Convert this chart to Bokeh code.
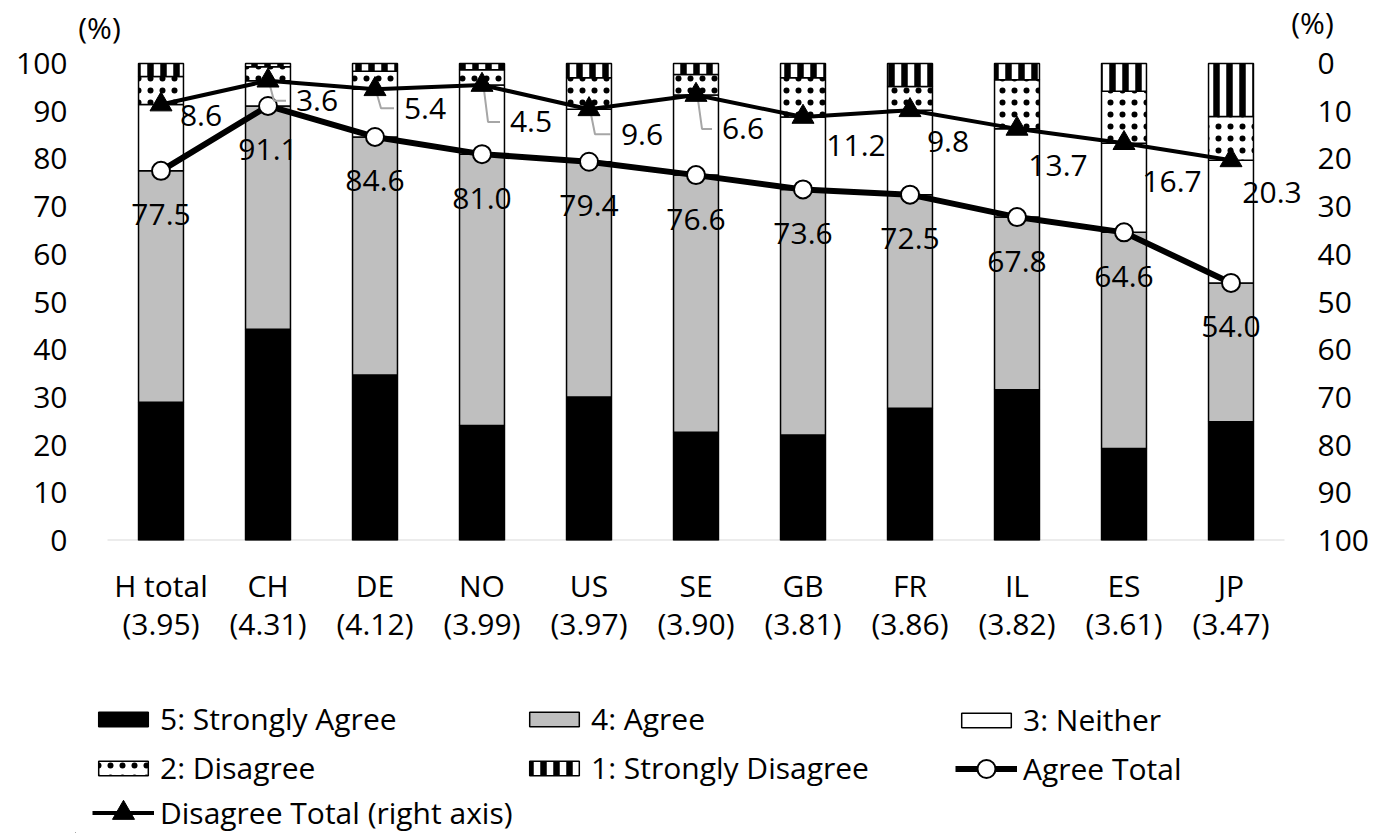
from bokeh.plotting import figure
from bokeh.layouts import column
from bokeh.models import (ColumnDataSource, Range1d, LinearAxis, FixedTicker,
                          Legend, LegendItem, Label)
from bokeh.core.properties import value
from bokeh.embed import file_html
from bokeh.resources import INLINE

# ---- data (percent of respondents) ----
categories = ["H total", "CH", "DE", "NO", "US", "SE", "GB", "FR", "IL", "ES", "JP"]
mean_scores = [3.95, 4.31, 4.12, 3.99, 3.97, 3.90, 3.81, 3.86, 3.82, 3.61, 3.47]
strongly_agree = [29.0, 44.3, 34.7, 24.1, 30.1, 22.7, 22.1, 27.7, 31.6, 19.3, 24.9]
agree_total = [77.5, 91.1, 84.6, 81.0, 79.4, 76.6, 73.6, 72.5, 67.8, 64.6, 54.0]
disagree_total = [8.6, 3.6, 5.4, 4.5, 9.6, 6.6, 11.2, 9.8, 13.7, 16.7, 20.3]
strongly_disagree = [2.7, 0.7, 1.6, 1.3, 3.0, 2.3, 3.0, 4.8, 3.4, 5.8, 11.1]
left_ticks = list(range(0, 101, 10))
right_ticks = list(range(0, 101, 10))

# derived segments of each stacked bar
agree = [round(t - s, 1) for t, s in zip(agree_total, strongly_agree)]
neither = [round(100 - a - d, 1) for a, d in zip(agree_total, disagree_total)]
disagree = [round(d - s, 1) for d, s in zip(disagree_total, strongly_disagree)]
xpos = [i + 0.5 for i in range(len(categories))]
cat_labels = {x: f"{c}\n({m:.2f})" for x, c, m in zip(xpos, categories, mean_scores)}

# ---- layout / style ----
W = 1373
H_MAIN, H_LEG = 690, 143
FONT = "Open Sans"
TXT = "30px"
TICK = "30px"
B_LEFT, B_RIGHT = 75, 38          # plot frame spans x = 75 .. 1335
Y_BASE = 540                      # y of the zero line
PX_PER_PCT = 4.77
PX_PER_CAT = 107.0
X_START = -(107 - B_LEFT) / PX_PER_CAT
X_END = X_START + (W - B_LEFT - B_RIGHT) / PX_PER_CAT
Y_TOP = Y_BASE / PX_PER_PCT

segment_styles = [
    dict(key="s5", label="5: Strongly Agree", fill="#000000", hatch=" ", scale=12, weight=1),
    dict(key="s4", label="4: Agree", fill="#bfbfbf", hatch=" ", scale=12, weight=1),
    dict(key="s3", label="3: Neither", fill="#ffffff", hatch=" ", scale=12, weight=1),
    dict(key="s2", label="2: Disagree", fill="#ffffff", hatch="dot", scale=12, weight=1.8),
    dict(key="s1", label="1: Strongly Disagree", fill="#ffffff", hatch="vertical_line", scale=13, weight=6.5),
]
AGREE_LINE = dict(line_color="black", line_width=6)
AGREE_MARK = dict(marker="circle", size=18, fill_color="white", line_color="black", line_width=2)
DIS_LINE = dict(line_color="black", line_width=4)
DIS_MARK = dict(marker="triangle", size=22, fill_color="black", line_color="black")

# ---- main plot ----
p = figure(width=W, height=H_MAIN, x_range=Range1d(X_START, X_END),
           y_range=Range1d(0, Y_TOP), output_backend="svg", toolbar_location=None,
           min_border_left=B_LEFT, min_border_right=B_RIGHT,
           min_border_top=0, min_border_bottom=H_MAIN - Y_BASE)
p.extra_y_ranges = {"right": Range1d(100, 100 - Y_TOP)}
p.outline_line_color = None
p.xgrid.visible = False
p.ygrid.visible = False


def style_axis(ax, standoff, size):
    ax.axis_line_color = None
    ax.major_tick_line_color = None
    ax.minor_tick_line_color = None
    ax.major_tick_out = 0
    ax.major_tick_in = 0
    ax.major_label_standoff = standoff
    ax.major_label_text_font = FONT
    ax.major_label_text_font_size = size
    ax.major_label_text_color = "black"


ya = p.yaxis[0]
ya.ticker = FixedTicker(ticks=left_ticks)
style_axis(ya, 8, TICK)

ra = LinearAxis(y_range_name="right", ticker=FixedTicker(ticks=right_ticks))
style_axis(ra, -18, TICK)
p.add_layout(ra, "right")

xa = p.xaxis[0]
xa.ticker = FixedTicker(ticks=xpos)
xa.major_label_overrides = cat_labels
style_axis(xa, 24, TXT)
xa.major_label_text_line_height = 0.95

# unit captions above both value axes
p.add_layout(Label(x=-8 / PX_PER_CAT, y=100 + 36 / PX_PER_PCT, text="(%)",
                   text_align="center", text_baseline="middle", text_font=FONT,
                   text_font_size=TICK, text_color="black"))
p.add_layout(Label(x=len(categories) + 28 / PX_PER_CAT, y=100 + 41 / PX_PER_PCT,
                   text="(%)", text_align="center", text_baseline="middle",
                   text_font=FONT, text_font_size=TICK, text_color="black"))

# baseline under the categories
p.segment(x0=[0], y0=[0], x1=[len(categories)], y1=[0],
          line_color="#d9d9d9", line_width=2)

# stacked bars
src = ColumnDataSource(dict(x=xpos, s5=strongly_agree, s4=agree, s3=neither,
                            s2=disagree, s1=strongly_disagree))
p.vbar_stack([s["key"] for s in segment_styles], x="x", width=0.42, source=src,
             fill_color=[s["fill"] for s in segment_styles],
             line_color="#000000", line_width=1.5,
             hatch_pattern=[s["hatch"] for s in segment_styles],
             hatch_color="#000000",
             hatch_scale=[s["scale"] for s in segment_styles],
             hatch_weight=[s["weight"] for s in segment_styles])

# agree total line (left axis)
asrc = ColumnDataSource(dict(x=xpos, y=agree_total,
                             t=[f"{v:.1f}" for v in agree_total]))
p.line("x", "y", source=asrc, **AGREE_LINE)
p.scatter("x", "y", source=asrc, **AGREE_MARK)
p.text("x", "y", text="t", source=asrc, x_offset=0, y_offset=44,
       text_align="center", text_baseline="middle",
       text_font=value(FONT), text_font_size=value(TXT), text_color="black")

# disagree total line (right axis), labels placed beside the points
lab_dx = [40, 49, 50, 49, 53, 47, 53, 38, 41, 48, 41]
lab_dy = [11, 20, 19, 37, 25, 34, 29, 31, 37, 38, 32]
has_leader = [False, True, True, True, True, True, False, False, False, False, False]
dsrc = ColumnDataSource(dict(x=xpos, y=disagree_total,
                             t=[f"{v:.1f}" for v in disagree_total],
                             dx=lab_dx, dy=lab_dy))

lx, ly = [], []
for cx, d, dx, dy, on in zip(xpos, disagree_total, lab_dx, lab_dy, has_leader):
    if not on:
        continue
    pts = [(2, 5), (6, dy), (dx - 31, dy)]
    lx.append([cx + a / PX_PER_CAT for a, _ in pts])
    ly.append([d + b / PX_PER_PCT for _, b in pts])
p.multi_line(lx, ly, y_range_name="right", line_color="#a6a6a6", line_width=2)

p.line("x", "y", source=dsrc, y_range_name="right", **DIS_LINE)
p.scatter("x", "y", source=dsrc, y_range_name="right", **DIS_MARK)
p.text("x", "y", text="t", source=dsrc, y_range_name="right",
       x_offset="dx", y_offset="dy", text_align="center", text_baseline="middle",
       text_font=value(FONT), text_font_size=value(TXT), text_color="black")

# ---- legend strip (three columns) ----
leg = figure(width=W, height=H_LEG, x_range=Range1d(0, 1), y_range=Range1d(0, 1),
             output_backend="svg", toolbar_location=None,
             x_axis_type=None, y_axis_type=None,
             min_border_left=B_LEFT, min_border_right=B_RIGHT,
             min_border_top=0, min_border_bottom=0)
leg.outline_line_color = None
leg.xgrid.visible = False
leg.ygrid.visible = False

# swatch renderers sit outside the visible range; only their legend glyphs show
OFF = [-10.0]
swatch = {}
for s in segment_styles:
    swatch[s["key"]] = leg.vbar(x=OFF, top=OFF, bottom=[-11.0], width=1,
                                fill_color=s["fill"], line_color="#000000",
                                line_width=1.5, hatch_pattern=s["hatch"],
                                hatch_color="#000000", hatch_scale=s["scale"],
                                hatch_weight=s["weight"])
agree_sw = [leg.line(x=OFF, y=OFF, **AGREE_LINE), leg.scatter(x=OFF, y=OFF, **AGREE_MARK)]
dis_sw = [leg.line(x=OFF, y=OFF, **DIS_LINE), leg.scatter(x=OFF, y=OFF, **DIS_MARK)]
label_of = {s["key"]: s["label"] for s in segment_styles}


def add_legend(items, x, y, glyph_h=18):
    # x: left edge of the swatch; y: distance of the legend's bottom from the strip bottom
    lg = Legend(items=items, location=(x - B_LEFT, y), orientation="vertical",
                glyph_width=62, glyph_height=glyph_h, label_standoff=6, spacing=8,
                label_height=40, padding=0, margin=0,
                border_line_color=None, background_fill_alpha=0,
                label_text_font=FONT, label_text_font_size=TXT,
                label_text_color="black")
    leg.add_layout(lg)


# column 1
add_legend([LegendItem(label=label_of["s5"], renderers=[swatch["s5"]]),
            LegendItem(label=label_of["s2"], renderers=[swatch["s2"]])],
           92, 45)
add_legend([LegendItem(label="Disagree Total (right axis)", renderers=dis_sw)],
           92, -7, glyph_h=55)
# column 2
add_legend([LegendItem(label=label_of["s4"], renderers=[swatch["s4"]]),
            LegendItem(label=label_of["s1"], renderers=[swatch["s1"]])],
           523, 45)
# column 3
add_legend([LegendItem(label=label_of["s3"], renderers=[swatch["s3"]])],
           955, 93)
add_legend([LegendItem(label="Agree Total", renderers=agree_sw)],
           955, 42, glyph_h=45)

layout = column(p, leg, spacing=0)
open("out.html", "w").write(file_html(layout, INLINE))
